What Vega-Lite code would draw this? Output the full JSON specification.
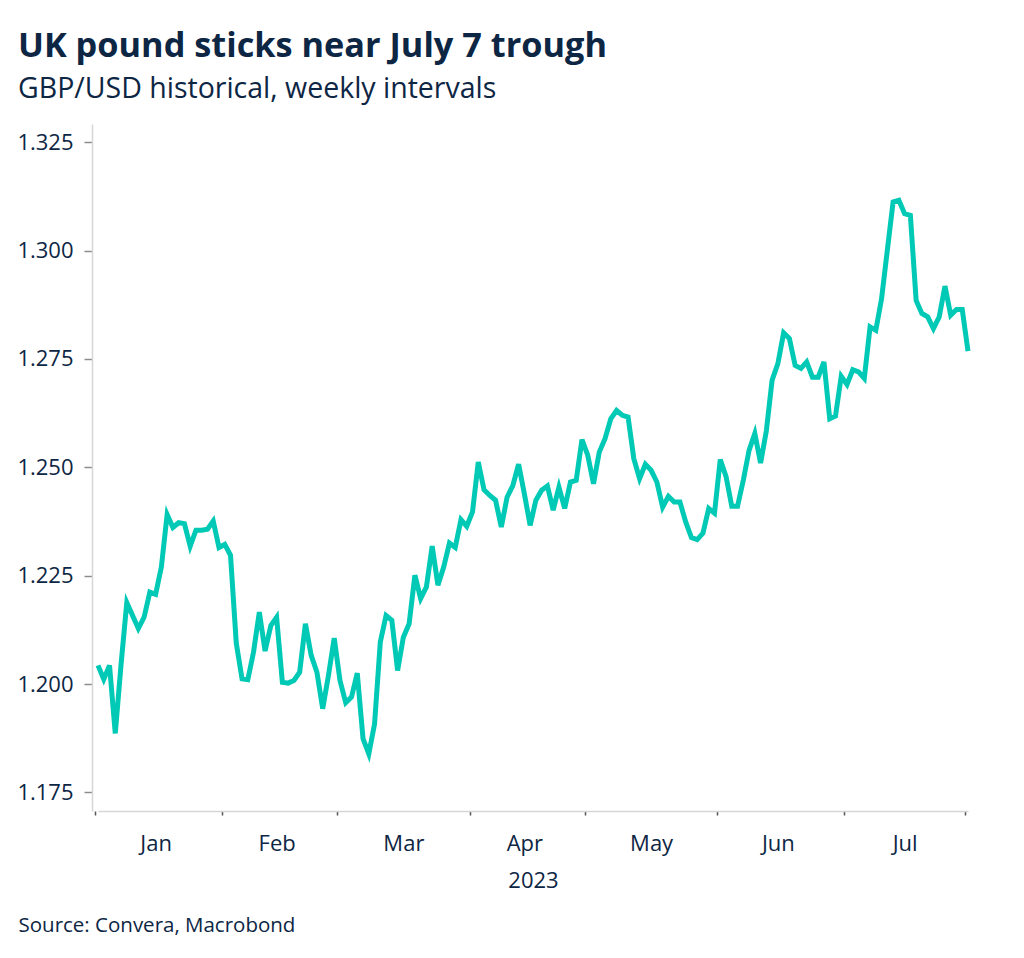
{
  "$schema": "https://vega.github.io/schema/vega-lite/v6.json",
  "width": 901,
  "height": 687,
  "autosize": "none",
  "padding": {"left": 92, "top": 124, "right": 31, "bottom": 147},
  "background": "white",
  "title": {
    "text": "UK pound sticks near July 7 trough",
    "subtitle": "GBP/USD historical, weekly intervals",
    "anchor": "start",
    "frame": "group",
    "dx": -74,
    "offset": 21,
    "font": "Open Sans",
    "fontSize": 34.3,
    "fontWeight": "bold",
    "color": "#0d2644",
    "subtitleFont": "Open Sans",
    "subtitleFontSize": 28.5,
    "subtitleColor": "#0d2644",
    "subtitlePadding": 10
  },
  "data": {
    "values": [
      {"date": "2023-01-02", "rate": 1.2043},
      {"date": "2023-01-03", "rate": 1.2011},
      {"date": "2023-01-04", "rate": 1.2043},
      {"date": "2023-01-05", "rate": 1.1886},
      {"date": "2023-01-06", "rate": 1.2045},
      {"date": "2023-01-09", "rate": 1.2188},
      {"date": "2023-01-10", "rate": 1.2158},
      {"date": "2023-01-11", "rate": 1.2128},
      {"date": "2023-01-12", "rate": 1.2154},
      {"date": "2023-01-13", "rate": 1.2212},
      {"date": "2023-01-16", "rate": 1.2207},
      {"date": "2023-01-17", "rate": 1.2270},
      {"date": "2023-01-18", "rate": 1.2391},
      {"date": "2023-01-19", "rate": 1.2361},
      {"date": "2023-01-20", "rate": 1.2372},
      {"date": "2023-01-23", "rate": 1.2370},
      {"date": "2023-01-24", "rate": 1.2318},
      {"date": "2023-01-25", "rate": 1.2355},
      {"date": "2023-01-26", "rate": 1.2355},
      {"date": "2023-01-27", "rate": 1.2357},
      {"date": "2023-01-30", "rate": 1.2376},
      {"date": "2023-01-31", "rate": 1.2315},
      {"date": "2023-02-01", "rate": 1.2322},
      {"date": "2023-02-02", "rate": 1.2297},
      {"date": "2023-02-03", "rate": 1.2094},
      {"date": "2023-02-06", "rate": 1.2012},
      {"date": "2023-02-07", "rate": 1.2010},
      {"date": "2023-02-08", "rate": 1.2074},
      {"date": "2023-02-09", "rate": 1.2166},
      {"date": "2023-02-10", "rate": 1.2076},
      {"date": "2023-02-13", "rate": 1.2135},
      {"date": "2023-02-14", "rate": 1.2154},
      {"date": "2023-02-15", "rate": 1.2004},
      {"date": "2023-02-16", "rate": 1.2002},
      {"date": "2023-02-17", "rate": 1.2008},
      {"date": "2023-02-20", "rate": 1.2027},
      {"date": "2023-02-21", "rate": 1.2139},
      {"date": "2023-02-22", "rate": 1.2066},
      {"date": "2023-02-23", "rate": 1.2027},
      {"date": "2023-02-24", "rate": 1.1943},
      {"date": "2023-02-27", "rate": 1.2020},
      {"date": "2023-02-28", "rate": 1.2106},
      {"date": "2023-03-01", "rate": 1.2008},
      {"date": "2023-03-02", "rate": 1.1957},
      {"date": "2023-03-03", "rate": 1.1970},
      {"date": "2023-03-06", "rate": 1.2025},
      {"date": "2023-03-07", "rate": 1.1874},
      {"date": "2023-03-08", "rate": 1.1839},
      {"date": "2023-03-09", "rate": 1.1908},
      {"date": "2023-03-10", "rate": 1.2097},
      {"date": "2023-03-13", "rate": 1.2158},
      {"date": "2023-03-14", "rate": 1.2147},
      {"date": "2023-03-15", "rate": 1.2031},
      {"date": "2023-03-16", "rate": 1.2108},
      {"date": "2023-03-17", "rate": 1.2139},
      {"date": "2023-03-20", "rate": 1.2251},
      {"date": "2023-03-21", "rate": 1.2197},
      {"date": "2023-03-22", "rate": 1.2224},
      {"date": "2023-03-23", "rate": 1.2318},
      {"date": "2023-03-24", "rate": 1.2228},
      {"date": "2023-03-27", "rate": 1.2270},
      {"date": "2023-03-28", "rate": 1.2325},
      {"date": "2023-03-29", "rate": 1.2315},
      {"date": "2023-03-30", "rate": 1.2379},
      {"date": "2023-03-31", "rate": 1.2364},
      {"date": "2023-04-03", "rate": 1.2397},
      {"date": "2023-04-04", "rate": 1.2512},
      {"date": "2023-04-05", "rate": 1.2448},
      {"date": "2023-04-06", "rate": 1.2435},
      {"date": "2023-04-07", "rate": 1.2424},
      {"date": "2023-04-10", "rate": 1.2362},
      {"date": "2023-04-11", "rate": 1.2431},
      {"date": "2023-04-12", "rate": 1.2458},
      {"date": "2023-04-13", "rate": 1.2507},
      {"date": "2023-04-14", "rate": 1.2439},
      {"date": "2023-04-17", "rate": 1.2366},
      {"date": "2023-04-18", "rate": 1.2424},
      {"date": "2023-04-19", "rate": 1.2447},
      {"date": "2023-04-20", "rate": 1.2457},
      {"date": "2023-04-21", "rate": 1.2401},
      {"date": "2023-04-24", "rate": 1.2454},
      {"date": "2023-04-25", "rate": 1.2405},
      {"date": "2023-04-26", "rate": 1.2466},
      {"date": "2023-04-27", "rate": 1.2470},
      {"date": "2023-04-28", "rate": 1.2564},
      {"date": "2023-05-01", "rate": 1.2528},
      {"date": "2023-05-02", "rate": 1.2462},
      {"date": "2023-05-03", "rate": 1.2535},
      {"date": "2023-05-04", "rate": 1.2566},
      {"date": "2023-05-05", "rate": 1.2612},
      {"date": "2023-05-08", "rate": 1.2631},
      {"date": "2023-05-09", "rate": 1.2620},
      {"date": "2023-05-10", "rate": 1.2616},
      {"date": "2023-05-11", "rate": 1.2520},
      {"date": "2023-05-12", "rate": 1.2474},
      {"date": "2023-05-15", "rate": 1.2507},
      {"date": "2023-05-16", "rate": 1.2493},
      {"date": "2023-05-17", "rate": 1.2466},
      {"date": "2023-05-18", "rate": 1.2408},
      {"date": "2023-05-19", "rate": 1.2433},
      {"date": "2023-05-22", "rate": 1.2420},
      {"date": "2023-05-23", "rate": 1.2420},
      {"date": "2023-05-24", "rate": 1.2374},
      {"date": "2023-05-25", "rate": 1.2338},
      {"date": "2023-05-26", "rate": 1.2333},
      {"date": "2023-05-29", "rate": 1.2348},
      {"date": "2023-05-30", "rate": 1.2405},
      {"date": "2023-05-31", "rate": 1.2394},
      {"date": "2023-06-01", "rate": 1.2518},
      {"date": "2023-06-02", "rate": 1.2479},
      {"date": "2023-06-05", "rate": 1.2410},
      {"date": "2023-06-06", "rate": 1.2410},
      {"date": "2023-06-07", "rate": 1.2470},
      {"date": "2023-06-08", "rate": 1.2539},
      {"date": "2023-06-09", "rate": 1.2578},
      {"date": "2023-06-12", "rate": 1.2510},
      {"date": "2023-06-13", "rate": 1.2584},
      {"date": "2023-06-14", "rate": 1.2701},
      {"date": "2023-06-15", "rate": 1.2739},
      {"date": "2023-06-16", "rate": 1.2810},
      {"date": "2023-06-19", "rate": 1.2797},
      {"date": "2023-06-20", "rate": 1.2735},
      {"date": "2023-06-21", "rate": 1.2728},
      {"date": "2023-06-22", "rate": 1.2743},
      {"date": "2023-06-23", "rate": 1.2708},
      {"date": "2023-06-26", "rate": 1.2708},
      {"date": "2023-06-27", "rate": 1.2743},
      {"date": "2023-06-28", "rate": 1.2612},
      {"date": "2023-06-29", "rate": 1.2618},
      {"date": "2023-06-30", "rate": 1.2710},
      {"date": "2023-07-03", "rate": 1.2691},
      {"date": "2023-07-04", "rate": 1.2725},
      {"date": "2023-07-05", "rate": 1.2720},
      {"date": "2023-07-06", "rate": 1.2705},
      {"date": "2023-07-07", "rate": 1.2824},
      {"date": "2023-07-10", "rate": 1.2816},
      {"date": "2023-07-11", "rate": 1.2889},
      {"date": "2023-07-12", "rate": 1.3001},
      {"date": "2023-07-13", "rate": 1.3112},
      {"date": "2023-07-14", "rate": 1.3116},
      {"date": "2023-07-17", "rate": 1.3085},
      {"date": "2023-07-18", "rate": 1.3081},
      {"date": "2023-07-19", "rate": 1.2885},
      {"date": "2023-07-20", "rate": 1.2855},
      {"date": "2023-07-21", "rate": 1.2847},
      {"date": "2023-07-24", "rate": 1.2820},
      {"date": "2023-07-25", "rate": 1.2847},
      {"date": "2023-07-26", "rate": 1.2918},
      {"date": "2023-07-27", "rate": 1.2851},
      {"date": "2023-07-28", "rate": 1.2864},
      {"date": "2023-07-31", "rate": 1.2864},
      {"date": "2023-08-01", "rate": 1.2768}
    ]
  },
  "encoding": {
    "y": {
      "field": "rate",
      "type": "quantitative",
      "scale": {"domain": [1.1707, 1.3292], "nice": false, "zero": false},
      "axis": {
        "title": null,
        "values": [1.175, 1.2, 1.225, 1.25, 1.275, 1.3, 1.325],
        "format": ".3f",
        "grid": false,
        "tickSize": 8,
        "tickColor": "#8c8c8c",
        "tickWidth": 1.5,
        "labelPadding": 11,
        "labelFont": "Open Sans",
        "labelFontSize": 22,
        "labelColor": "#0d2644",
        "domainColor": "#d6d6d6",
        "domainWidth": 1.5
      }
    }
  },
  "layer": [
    {
      "mark": {"type": "line", "color": "#00c9b5", "strokeWidth": 5},
      "encoding": {
        "x": {
          "field": "date",
          "type": "ordinal",
          "scale": {"type": "point", "padding": 0, "range": [6, 876]},
          "axis": {
            "orient": "bottom",
            "values": ["2023-01-02", "2023-02-01", "2023-03-01", "2023-04-03", "2023-05-01", "2023-06-01", "2023-07-03", "2023-08-01"],
            "labels": false,
            "grid": false,
            "ticks": true,
            "tickSize": 4,
            "tickWidth": 1.5,
            "tickColor": "#555555",
            "tickOffset": -2.9,
            "domainColor": "#d6d6d6",
            "domainWidth": 1.5,
            "title": "Source: Convera, Macrobond",
            "titleFont": "Open Sans",
            "titleFontSize": 20.5,
            "titleFontWeight": "normal",
            "titleColor": "#0d2644",
            "titleAlign": "left",
            "titleAnchor": "start",
            "titleBaseline": "alphabetic",
            "titleX": -74,
            "titleY": 120
          }
        }
      }
    },
    {
      "mark": {"type": "line", "strokeOpacity": 0},
      "encoding": {
        "x": {
          "field": "date",
          "type": "ordinal",
          "axis": {
            "orient": "bottom",
            "values": ["2023-01-16", "2023-02-14", "2023-03-16", "2023-04-14", "2023-05-16", "2023-06-15", "2023-07-17"],
            "labelExpr": "utcFormat(toDate(datum.value), '%b')",
            "labelAngle": 0,
            "labelAlign": "center",
            "labelBaseline": "alphabetic",
            "labelPadding": 39,
            "labelFont": "Open Sans",
            "labelFontSize": 22,
            "labelColor": "#0d2644",
            "ticks": false,
            "tickSize": 0,
            "domain": false,
            "grid": false,
            "title": "2023",
            "titleFont": "Open Sans",
            "titleFontSize": 22,
            "titleFontWeight": "normal",
            "titleColor": "#0d2644",
            "titleBaseline": "alphabetic",
            "titleY": 76
          }
        }
      }
    }
  ],
  "resolve": {"axis": {"x": "independent"}},
  "config": {"view": {"stroke": null}}
}
